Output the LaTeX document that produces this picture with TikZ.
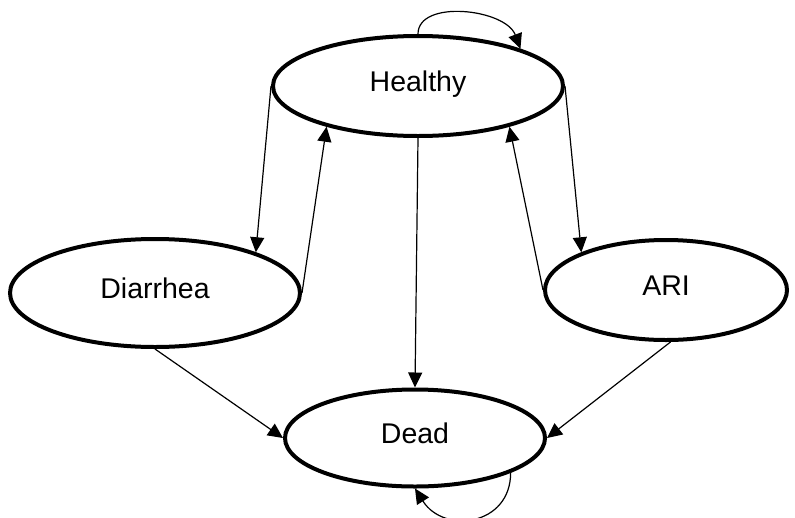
\documentclass[tikz,border=0pt]{standalone}
\usepackage{fontspec}
\setmainfont{Liberation Sans}
\usetikzlibrary{arrows.meta,shapes.geometric,positioning}

\begin{document}
\begin{tikzpicture}[x=1pt,y=-1pt]
\tikzstyle{state}=[ellipse,draw,line width=4pt,inner sep=0pt,text height=21pt,text depth=10pt,font=\fontsize{28.5}{34}\selectfont]
\tikzstyle{trans}=[line width=1.2pt,-{Triangle[length=15pt,width=14pt]}]
\useasboundingbox (0,0) rectangle (795,517);
\node[state,minimum width=290pt,minimum height=100pt] (healthy) at (418,86) {Healthy};
\node[state,minimum width=290pt,minimum height=108pt] (diarrhea) at (155,293) {Diarrhea};
\node[state,minimum width=242pt,minimum height=100pt] (ari) at (666,290) {ARI};
\node[state,minimum width=260pt,minimum height=97pt] (dead) at (415,438) {Dead};
\draw[trans] (healthy.west) -- (diarrhea.22);
\draw[trans] (diarrhea.east) -- (healthy.204);
\draw[trans] (healthy.east) -- (ari.156);
\draw[trans] (ari.west) -- (healthy.336);
\draw[trans] (healthy.south) -- (dead.north);
\draw[trans] (diarrhea.south) -- (dead.west);
\draw[trans] (ari.275) -- (dead.east);
\draw[trans] (healthy.north) .. controls +(0,-35) and +(-15,-40) .. (healthy.20);
\draw[trans] (dead.340) .. controls +(0,53) and +(29,46) .. (dead.south);
\end{tikzpicture}
\end{document}
